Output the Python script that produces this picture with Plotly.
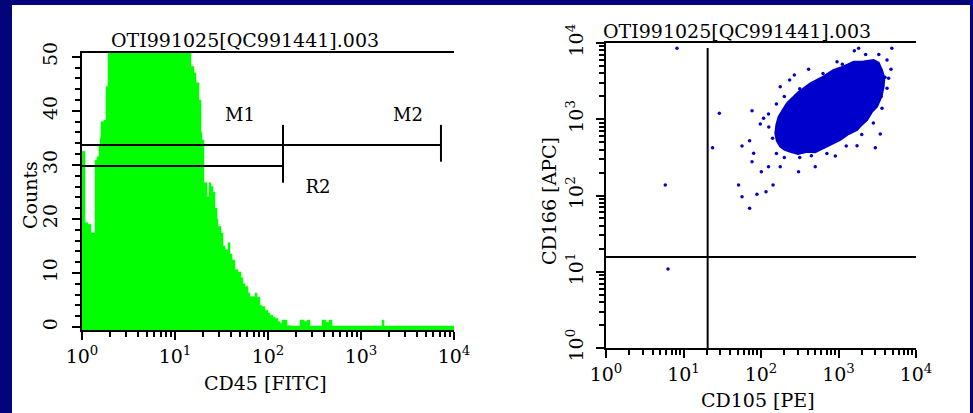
import plotly.graph_objects as go

# ---------------- data ----------------
title_text = "OTI991025[QC991441].003"

# Histogram: CD45 [FITC] intensity (channel position) and counts
fitc = [1.000, 1.051, 1.077, 1.160, 1.250, 1.346, 1.380, 1.450, 1.523, 1.561, 1.601,
        1.724, 1.812, 1.903, 14.50, 14.86, 16.01, 16.82, 18.12, 19.04, 19.51, 20.50,
        22.09, 23.21, 24.39, 25.63, 26.92, 28.29, 29.00, 31.24, 32.82, 34.49, 37.15,
        39.03, 41.02, 44.18, 47.58, 51.26, 53.86, 56.59, 60.95, 64.04, 67.30, 72.48,
        76.16, 82.03, 86.19, 92.83, 100.0, 105.1, 113.2, 118.9, 128.1, 134.6, 141.4,
        152.3, 160.1, 172.4, 195.2, 220.9, 243.9, 262.7, 282.9, 380.7, 420.4, 452.8,
        487.8, 1601, 1682, 1768, 10000]
counts = [32.5, 32.5, 19.3, 19.0, 17.4, 17.4, 30.9, 31.5, 33.5, 35.0, 38.0,
          38.3, 44.5, 60.0, 60.0, 48.2, 47.0, 45.2, 42.0, 36.0, 34.6, 26.7,
          24.1, 26.7, 26.0, 25.0, 22.0, 20.0, 18.6, 17.4, 15.0, 14.3, 15.6,
          13.5, 12.4, 10.6, 10.2, 9.1, 8.0, 7.5, 6.3, 5.6, 5.6, 6.3,
          5.5, 4.0, 3.8, 3.1, 2.6, 2.2, 1.8, 1.6, 1.0, 0.7, 1.3,
          1.3, 0.3, 0.2, 0.2, 1.3, 1.0, 1.3, 0.2, 1.3, 0.9, 1.3,
          0.2, 0.2, 1.3, 0.2, 0.2]

# Histogram markers (gates)
m1_range = [1.0, 145.0]
m2_range = [145.0, 7240.0]
r2_range = [1.0, 145.0]
m_level = 33.7
r2_level = 29.8
m1_tick = [26.7, 37.4]
m2_tick = [30.6, 37.4]
gate_labels = ["M1", "M2", "R2"]
gate_label_x = [50.0, 3200.0, 345.0]
gate_label_y = [38.9, 38.9, 25.7]

# Dot plot: dense population outline (CD105 [PE], CD166 [APC])
blob_pe = [216, 300, 433, 600, 865, 1150, 1567, 2100, 2838, 3300, 3639, 3900, 3819,
           3600, 3141, 2700, 2333, 2000, 1734, 1350, 1054, 820, 643, 500,
           393, 300, 239, 200, 177, 160, 153, 158, 169, 190, 216]
blob_apc = [1618, 2250, 2958, 3500, 4426, 4900, 5689, 5700, 5984, 5500, 4426, 3500, 2673,
            2000, 1462, 1250, 977, 850, 723, 640, 535, 470, 416, 370,
            375, 350, 375, 400, 437, 520, 655, 850, 1079, 1300, 1618]

# individual events
dots_pe = [4875, 1820, 1600, 4227, 4753, 4436, 4227, 3639, 3459, 2985, 1734, 910,
           501, 305, 177, 125, 101, 76.6, 80.4, 56.9, 71.3, 97.9, 108, 76.6,
           125, 177, 234, 269, 411, 957, 51.4, 56.9, 88.7, 116, 143, 71.3,
           29.0, 23.7, 8.24, 5.82, 6.31,
           141, 126, 158, 200, 316, 447, 708, 1259, 1995, 2818, 3548, 3981,
           3311, 2239, 1122, 631, 316, 200, 158]
dots_apc = [8511, 8511, 7943, 5984, 4519, 3443, 2547, 1393, 641, 424, 450, 330,
            239, 205, 239, 239, 205, 277, 357, 446, 524, 867, 1028, 1294,
            1172, 2673, 3273, 3802, 4519, 5689, 137, 96.4, 104, 112, 137, 67.9,
            1197, 424, 8511, 137, 10.9,
            562, 794, 355, 316, 316, 331, 355, 447, 631, 891, 1995, 3548,
            7079, 7079, 5248, 3981, 2512, 1995, 1585]

# quadrant markers
quad_x = 20.5
quad_y = 15.6
quad_v_top = 8600

log_ticks = [1, 10, 100, 1000, 10000]
log_ticktext = ["10<sup>0</sup>", "10<sup>1</sup>", "10<sup>2</sup>", "10<sup>3</sup>", "10<sup>4</sup>"]
count_ticks = [0, 10, 20, 30, 40, 50]
count_ticktext = ["0", "10", "20", "30", "40", "50"]

# ---------------- figure ----------------
W, H = 973, 413
BG = "#03037c"
FONT = "DejaVu Serif"
GREEN = "#00ff00"
BLUE = "#0000cc"


def px(x):
    return x / W


def py(y):
    return 1 - y / H


fig = go.Figure()

# histogram baseline + fill
fig.add_trace(go.Scatter(x=[fitc[0], fitc[-1]], y=[-0.55, -0.55], mode="lines",
                         line=dict(width=0, color=GREEN), xaxis="x", yaxis="y",
                         showlegend=False, hoverinfo="skip"))
fig.add_trace(go.Scatter(x=fitc, y=counts, mode="lines", line_shape="hv",
                         line=dict(width=0.5, color=GREEN), fill="tonexty",
                         fillcolor=GREEN, xaxis="x", yaxis="y", showlegend=False))

gate_line = dict(color="black", width=2)
fig.add_trace(go.Scatter(x=m1_range, y=[m_level, m_level], mode="lines", line=gate_line,
                         xaxis="x", yaxis="y", showlegend=False))
fig.add_trace(go.Scatter(x=[m1_range[1], m1_range[1]], y=m1_tick, mode="lines", line=gate_line,
                         xaxis="x", yaxis="y", showlegend=False))
fig.add_trace(go.Scatter(x=m2_range, y=[m_level, m_level], mode="lines", line=gate_line,
                         xaxis="x", yaxis="y", showlegend=False))
fig.add_trace(go.Scatter(x=[m2_range[1], m2_range[1]], y=m2_tick, mode="lines", line=gate_line,
                         xaxis="x", yaxis="y", showlegend=False))
fig.add_trace(go.Scatter(x=r2_range, y=[r2_level, r2_level], mode="lines", line=gate_line,
                         xaxis="x", yaxis="y", showlegend=False))
fig.add_trace(go.Scatter(x=gate_label_x, y=gate_label_y, mode="text", text=gate_labels,
                         textfont=dict(family=FONT, size=18, color="black"),
                         xaxis="x", yaxis="y", showlegend=False))

# dot plot
fig.add_trace(go.Scatter(x=blob_pe, y=blob_apc, mode="lines", fill="toself",
                         fillcolor=BLUE, line=dict(color=BLUE, width=2),
                         xaxis="x2", yaxis="y2", showlegend=False))
fig.add_trace(go.Scatter(x=dots_pe, y=dots_apc, mode="markers",
                         marker=dict(color=BLUE, size=3.5, line=dict(width=0)),
                         xaxis="x2", yaxis="y2", showlegend=False))
fig.add_trace(go.Scatter(x=[quad_x, quad_x], y=[1, quad_v_top], mode="lines", line=gate_line,
                         xaxis="x2", yaxis="y2", showlegend=False))
fig.add_trace(go.Scatter(x=[1, 10000], y=[quad_y, quad_y], mode="lines", line=gate_line,
                         xaxis="x2", yaxis="y2", showlegend=False))

minor_log = [m * 10 ** k for k in range(4) for m in range(2, 10)]
tickfont = dict(family=FONT, size=19, color="black")

log_axis = dict(type="log", range=[0, 4], tickmode="array", tickvals=log_ticks,
                ticktext=log_ticktext, ticks="outside", ticklen=8, tickwidth=2,
                tickcolor="black", showline=True, linecolor="black", linewidth=2,
                showgrid=False, zeroline=False, tickfont=tickfont, automargin=False,
                minor=dict(tickmode="array", tickvals=minor_log, ticks="outside",
                           ticklen=5, tickwidth=2, tickcolor="black", showgrid=False))

fig.update_layout(
    width=W, height=H,
    margin=dict(l=0, r=0, t=0, b=0, pad=0),
    autosize=False,
    paper_bgcolor=BG,
    plot_bgcolor="rgba(0,0,0,0)",
    xaxis=dict(log_axis, domain=[px(82), px(454)], anchor="y", mirror=True),
    yaxis=dict(range=[-0.55, 50.7], domain=[py(330), py(53)], anchor="x",
               tickmode="array", tickvals=count_ticks, ticktext=count_ticktext,
               tickangle=-90, ticks="outside", ticklen=8, tickwidth=2, tickcolor="black",
               showline=True, linecolor="black", linewidth=2, showgrid=False,
               zeroline=False, tickfont=tickfont, ticklabelstandoff=7, automargin=False,
               minor=dict(dtick=2, ticks="outside", ticklen=5, tickwidth=2,
                          tickcolor="black", showgrid=False)),
    xaxis2=dict(log_axis, domain=[px(606), px(916)], anchor="y2", mirror=True),
    yaxis2=dict(log_axis, domain=[py(348), py(43)], anchor="x2",
                tickangle=-90, ticklabelstandoff=5),
    showlegend=False,
)

fig.add_shape(type="rect", xref="paper", yref="paper", x0=px(12), x1=px(970),
              y0=-0.05, y1=py(5), fillcolor="white", line=dict(width=0), layer="below")

ann_font = dict(family=FONT, size=19, color="black")
ann_common = dict(xref="paper", yref="paper", showarrow=False, font=ann_font,
                  xanchor="center", yanchor="middle")
fig.add_annotation(text=title_text, x=px(245), y=py(40), **ann_common)
fig.add_annotation(text=title_text, x=px(737), y=py(31), **ann_common)
fig.add_annotation(text="CD45 [FITC]", x=px(265), y=py(383), **ann_common)
fig.add_annotation(text="CD105 [PE]", x=px(758), y=py(400), **ann_common)
fig.add_annotation(text="Counts", x=px(30), y=py(195), textangle=-90, **ann_common)
fig.add_annotation(text="CD166 [APC]", x=px(549), y=py(201), textangle=-90, **ann_common)

page_css = ("document.body.style.margin='0';"
            "document.body.style.background='" + BG + "';")
fig.write_html("out.html", post_script=page_css, config={"displayModeBar": False})
